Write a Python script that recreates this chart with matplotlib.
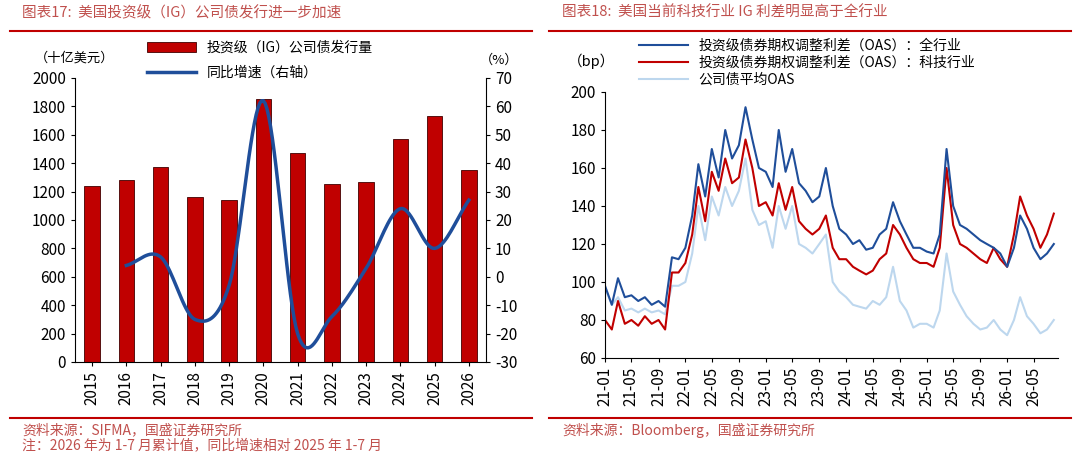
import numpy as np
import pandas as pd
import matplotlib
matplotlib.use("Agg")
import matplotlib.pyplot as plt
from matplotlib.lines import Line2D

plt.rcParams['font.family'] = ['Noto Sans CJK SC', 'DejaVu Sans']
plt.rcParams['axes.unicode_minus'] = False

# ---- left chart data ----
years = [2015, 2016, 2017, 2018, 2019, 2020, 2021, 2022, 2023, 2024, 2025, 2026]
issuance = [1240, 1285, 1375, 1165, 1140, 1850, 1470, 1250, 1265, 1570, 1730, 1350]
growth_years = [2016, 2017, 2018, 2019, 2020, 2021, 2022, 2023, 2024, 2025, 2026]
growth = [4, 7, -15, -3, 62, -20, -14, 3, 24, 10, 27]

# ---- right chart data (monthly, 2021-01 .. 2026-08) ----
oas_all = [98, 88, 102, 92, 93, 90, 92, 88, 90, 87, 113, 112,
           118, 135, 162, 145, 170, 155, 180, 165, 172, 192, 175, 160,
           158, 150, 180, 158, 170, 152, 148, 142, 145, 160, 140, 128,
           125, 120, 122, 117, 118, 125, 128, 142, 132, 125, 118, 118,
           116, 115, 125, 170, 140, 130, 128, 125, 122, 120, 118, 115,
           108, 118, 135, 128, 118, 112, 115, 120]
oas_tech = [80, 75, 90, 78, 80, 77, 82, 78, 80, 75, 105, 105,
            110, 125, 150, 132, 158, 148, 165, 152, 155, 175, 160, 140,
            142, 135, 152, 138, 150, 132, 128, 125, 128, 135, 118, 112,
            112, 108, 106, 104, 106, 112, 115, 130, 125, 118, 112, 110,
            110, 108, 118, 160, 130, 120, 118, 115, 112, 110, 118, 112,
            108, 125, 145, 135, 128, 118, 125, 136]
oas_avg = [97, 88, 92, 85, 86, 84, 86, 84, 85, 83, 98, 98,
           100, 115, 140, 122, 145, 135, 150, 140, 148, 165, 138, 130,
           132, 118, 140, 128, 140, 120, 118, 115, 120, 125, 100, 95,
           92, 88, 87, 86, 90, 88, 92, 108, 90, 85, 76, 78,
           78, 76, 85, 115, 95, 88, 82, 78, 75, 76, 80, 75,
           72, 80, 92, 82, 78, 73, 75, 80]
dates = pd.date_range("2021-01-01", periods=len(oas_all), freq="MS")
tick_dates = pd.date_range("2021-01-01", "2026-05-01", freq="4MS")

RED = "#C00000"
BLUE = "#1F4E9A"
LIGHT = "#BDD7EE"
TRED = "#C0504D"


def smooth(xs, ys, n=20):
    # Catmull-Rom drawing of the line, like an Excel smoothed line
    xs = np.asarray(xs, float)
    ys = np.asarray(ys, float)
    px = np.concatenate([[2 * xs[0] - xs[1]], xs, [2 * xs[-1] - xs[-2]]])
    py = np.concatenate([[2 * ys[0] - ys[1]], ys, [2 * ys[-1] - ys[-2]]])
    outx, outy = [], []
    t = np.linspace(0, 1, n)
    for i in range(1, len(px) - 2):
        for p, out in ((px, outx), (py, outy)):
            p0, p1, p2, p3 = p[i - 1], p[i], p[i + 1], p[i + 2]
            out.extend(0.5 * (2 * p1 + (-p0 + p2) * t + (2 * p0 - 5 * p1 + 4 * p2 - p3) * t ** 2
                              + (-p0 + 3 * p1 - 3 * p2 + p3) * t ** 3))
    return outx, outy


fig = plt.figure(figsize=(10.8, 4.54), dpi=100)
W, H = 1080, 454

# titles and rules
fig.text(22 / W, 1 - 13 / H, "图表17:  美国投资级（IG）公司债发行进一步加速", color=TRED,
         fontsize=10.5, style="italic", va="center")
fig.text(562 / W, 1 - 13 / H, "图表18:  美国当前科技行业 IG 利差明显高于全行业", color=TRED,
         fontsize=10.5, style="italic", va="center")
for x0, x1 in ((10, 532), (549, 1071)):
    fig.add_artist(Line2D([x0 / W, x1 / W], [1 - 31 / H] * 2, color=RED, lw=1.5))
    fig.add_artist(Line2D([x0 / W, x1 / W], [1 - 418 / H] * 2, color=RED, lw=1.5))
fig.text(22 / W, 1 - 430 / H, "资料来源：SIFMA，国盛证券研究所", color=TRED, fontsize=10,
         style="italic", va="center")
fig.text(22 / W, 1 - 445 / H, "注：2026 年为 1-7 月累计值，同比增速相对 2025 年 1-7 月", color=TRED,
         fontsize=10, style="italic", va="center")
fig.text(562 / W, 1 - 430 / H, "资料来源：Bloomberg，国盛证券研究所", color=TRED, fontsize=10,
         style="italic", va="center")

# ---- left chart ----
ax = fig.add_axes([75 / W, 1 - 362 / H, 411 / W, 284 / H])
ax.bar(years, issuance, width=0.45, color=RED, edgecolor="#400000", lw=0.6, label="投资级（IG）公司债发行量")
ax.set_ylim(0, 2000)
ax.set_yticks(range(0, 2001, 200))
ax.set_xlim(2014.5, 2026.5)
ax.set_xticks(years)
ax.set_xticklabels([str(y) for y in years], rotation=90)
ax.tick_params(labelsize=11, length=3)
for s in ("top", "right"):
    ax.spines[s].set_visible(False)
ax2 = ax.twinx()
sx, sy = smooth(growth_years, growth)
ax2.plot(sx, sy, color=BLUE, lw=2.5, label="同比增速（右轴）")
ax2.set_ylim(-30, 70)
ax2.set_yticks(range(-30, 71, 10))
ax2.tick_params(labelsize=11, length=3)
for s in ("top", "left", "bottom"):
    ax2.spines[s].set_visible(False)
h1, l1 = ax.get_legend_handles_labels()
h2, l2 = ax2.get_legend_handles_labels()
fig.legend(h1 + h2, l1 + l2, loc="upper left", bbox_to_anchor=(140 / W, 1 - 34 / H), frameon=False,
           fontsize=10, handlelength=3.5, labelspacing=0.75, borderpad=0)
fig.text(35 / W, 1 - 62 / H, "（十亿美元）", fontsize=9.5)
fig.text(480 / W, 1 - 64 / H, "（%）", fontsize=9.5)

# ---- right chart ----
bx = fig.add_axes([605 / W, 1 - 358 / H, 453 / W, 266 / H])
bx.plot(dates, oas_avg, color=LIGHT, lw=1.5, label="公司债平均OAS")
bx.plot(dates, oas_tech, color=RED, lw=1.5, label="投资级债券期权调整利差（OAS）：科技行业")
bx.plot(dates, oas_all, color=BLUE, lw=1.5, label="投资级债券期权调整利差（OAS）：全行业")
bx.set_ylim(60, 200)
bx.set_yticks(range(60, 201, 20))
bx.set_xlim(pd.Timestamp("2021-01-01"), pd.Timestamp("2026-08-20"))
bx.set_xticks(tick_dates)
bx.set_xticklabels([d.strftime("%y-%m") for d in tick_dates], rotation=90)
bx.tick_params(labelsize=11, length=3)
for s in ("top", "right"):
    bx.spines[s].set_visible(False)
hh, ll = bx.get_legend_handles_labels()
fig.legend(hh[::-1], ll[::-1], loc="upper left", bbox_to_anchor=(632 / W, 1 - 32 / H), frameon=False,
           fontsize=10, handlelength=3.5, labelspacing=0.2, borderpad=0)
fig.text(568 / W, 1 - 66 / H, "（bp）", fontsize=10.5)

fig.savefig("out.png", dpi=100)
